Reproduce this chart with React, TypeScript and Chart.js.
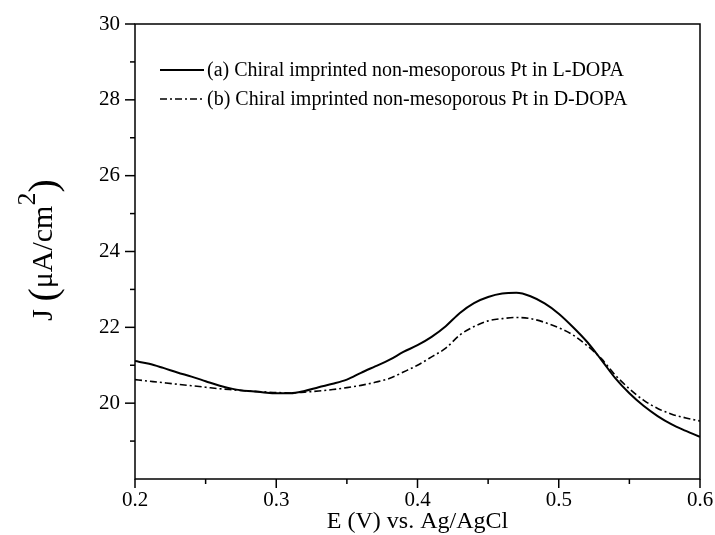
import React, { useEffect, useRef } from "react";
import { Chart, registerables } from "chart.js";

Chart.register(...registerables);

// Potential (V vs. Ag/AgCl)
const potentials = [
  0.2, 0.21, 0.22, 0.23, 0.24, 0.25, 0.26, 0.27, 0.28, 0.29,
  0.3, 0.31, 0.32, 0.33, 0.34, 0.35, 0.36, 0.37, 0.38, 0.39,
  0.4, 0.41, 0.42, 0.43, 0.44, 0.45, 0.46, 0.47, 0.48, 0.49,
  0.5, 0.51, 0.52, 0.53, 0.54, 0.55, 0.56, 0.57, 0.58, 0.59, 0.6,
];

// (a) L-DOPA current density (µA/cm²)
const currentL = [
  21.11, 21.04, 20.93, 20.81, 20.7, 20.58, 20.46, 20.37, 20.32, 20.29,
  20.26, 20.26, 20.32, 20.42, 20.51, 20.62, 20.8, 20.97, 21.14, 21.35,
  21.53, 21.75, 22.03, 22.38, 22.64, 22.8, 22.89, 22.91, 22.82, 22.63,
  22.36, 22.01, 21.62, 21.15, 20.66, 20.26, 19.93, 19.66, 19.44, 19.27, 19.11,
];

// (b) D-DOPA current density (µA/cm²)
const currentD = [
  20.62, 20.58, 20.54, 20.5, 20.46, 20.42, 20.38, 20.35, 20.32, 20.3,
  20.28, 20.27, 20.29, 20.32, 20.36, 20.41, 20.47, 20.55, 20.65, 20.82,
  21.0, 21.22, 21.45, 21.8, 22.02, 22.17, 22.23, 22.26, 22.23, 22.13,
  21.99, 21.8, 21.52, 21.18, 20.74, 20.38, 20.08, 19.86, 19.71, 19.61, 19.53,
];

const seriesLabels = [
  "(a) Chiral imprinted non-mesoporous Pt in L-DOPA",
  "(b) Chiral imprinted non-mesoporous Pt in D-DOPA",
];
const xTitle = "E (V) vs. Ag/AgCl";
const yTitleParts = ["J ", "(", "\u03bcA/cm", "2", ")"];

const xMin = 0.2;
const xMax = 0.6;
const xMajorStep = 0.1;
const xMinorStep = 0.05;
const yMin = 18;
const yMax = 30;
const yMajorStep = 2;
const yMinorStep = 1;

const FONT = "'Liberation Serif', 'Times New Roman', serif";
const DASH_DOT = [7, 3, 2, 3];

const framePlugin = {
  id: "frame",
  afterDraw(chart: any) {
    const { ctx, chartArea } = chart;
    const { left, right, top, bottom } = chartArea;
    const xs = chart.scales.x;
    const ys = chart.scales.y;
    ctx.save();
    ctx.strokeStyle = "#000";
    ctx.lineWidth = 1.5;
    ctx.setLineDash([]);
    ctx.strokeRect(left, top, right - left, bottom - top);

    // x ticks (outward, below)
    const nx = Math.round((xMax - xMin) / xMinorStep);
    for (let i = 0; i <= nx; i++) {
      const v = xMin + i * xMinorStep;
      const px = xs.getPixelForValue(v);
      const major = i % Math.round(xMajorStep / xMinorStep) === 0;
      ctx.beginPath();
      ctx.moveTo(px, bottom);
      ctx.lineTo(px, bottom + (major ? 9 : 5));
      ctx.stroke();
    }
    // y ticks (outward, left)
    const ny = Math.round((yMax - yMin) / yMinorStep);
    for (let i = 1; i <= ny; i++) {
      const v = yMin + i * yMinorStep;
      const py = ys.getPixelForValue(v);
      const major = (v - yMin) % yMajorStep === 0;
      ctx.beginPath();
      ctx.moveTo(left, py);
      ctx.lineTo(left - (major ? 10 : 5), py);
      ctx.stroke();
    }

    // legend
    const legendX0 = 160;
    const legendX1 = 204;
    const rows = [70, 99];
    const dashes = [[], DASH_DOT];
    const widths = [2, 1.6];
    for (let i = 0; i < 2; i++) {
      ctx.beginPath();
      ctx.setLineDash(dashes[i]);
      ctx.lineWidth = widths[i];
      ctx.moveTo(legendX0, rows[i]);
      ctx.lineTo(legendX1, rows[i]);
      ctx.stroke();
      ctx.setLineDash([]);
      ctx.fillStyle = "#000";
      ctx.font = `20px ${FONT}`;
      ctx.textAlign = "left";
      ctx.textBaseline = "middle";
      ctx.fillText(seriesLabels[i], legendX1 + 3, rows[i] + 1);
    }

    // x title
    ctx.font = `24px ${FONT}`;
    ctx.textAlign = "center";
    ctx.textBaseline = "middle";
    ctx.fillText(xTitle, (left + right) / 2, 522);

    // y title (rotated)
    ctx.translate(52, 250);
    ctx.rotate(-Math.PI / 2);
    ctx.textBaseline = "alphabetic";
    ctx.textAlign = "left";
    const sizes = [30, 40, 30, 26, 40];
    const rise = [0, 4, 0, -17, 4];
    let total = 0;
    const ws: number[] = [];
    for (let i = 0; i < yTitleParts.length; i++) {
      ctx.font = `${sizes[i]}px ${FONT}`;
      const w = ctx.measureText(yTitleParts[i]).width;
      ws.push(w);
      total += w;
    }
    let cx = -total / 2;
    for (let i = 0; i < yTitleParts.length; i++) {
      ctx.font = `${sizes[i]}px ${FONT}`;
      ctx.fillText(yTitleParts[i], cx, rise[i]);
      cx += ws[i];
    }
    ctx.restore();
  },
};

export default function App() {
  const canvasRef = useRef<HTMLCanvasElement | null>(null);

  useEffect(() => {
    const canvas = canvasRef.current;
    if (!canvas) return;
    const chart = new Chart(canvas, {
      type: "line",
      data: {
        datasets: [
          {
            label: seriesLabels[0],
            data: potentials.map((x, i) => ({ x, y: currentL[i] })),
            borderColor: "#000",
            borderWidth: 2,
            pointRadius: 0,
            cubicInterpolationMode: "monotone",
            fill: false,
          },
          {
            label: seriesLabels[1],
            data: potentials.map((x, i) => ({ x, y: currentD[i] })),
            borderColor: "#000",
            borderWidth: 1.6,
            borderDash: DASH_DOT,
            pointRadius: 0,
            cubicInterpolationMode: "monotone",
            fill: false,
          },
        ],
      },
      options: {
        responsive: false,
        animation: false,
        layout: { padding: { top: 24, right: 15, left: 0, bottom: 0 } },
        plugins: {
          legend: { display: false },
          tooltip: { enabled: false },
          title: { display: false },
        },
        scales: {
          x: {
            type: "linear",
            min: xMin,
            max: xMax,
            grid: { display: false, drawTicks: false },
            border: { display: false },
            ticks: {
              stepSize: xMajorStep,
              color: "#000",
              font: { family: FONT, size: 21 },
              padding: 9,
              maxRotation: 0,
              callback: (v: any) => Number(v).toFixed(1),
            },
            afterFit: (s: any) => {
              s.height = 56;
              s.paddingLeft = 0;
              s.paddingRight = 0;
            },
          },
          y: {
            type: "linear",
            min: yMin,
            max: yMax,
            grid: { display: false, drawTicks: false },
            border: { display: false },
            ticks: {
              stepSize: yMajorStep,
              color: "#000",
              font: { family: FONT, size: 21 },
              padding: 15,
              callback: (v: any) => (Number(v) === yMin ? "" : String(v)),
            },
            afterFit: (s: any) => {
              s.width = 135;
              s.paddingTop = 0;
              s.paddingBottom = 0;
            },
          },
        },
      },
      plugins: [framePlugin],
    });
    return () => chart.destroy();
  }, []);

  return (
    <div style={{ position: "fixed", left: 0, top: 0, width: 715, height: 535, background: "#fff" }}>
      <canvas ref={canvasRef} width={715} height={535} />
    </div>
  );
}
